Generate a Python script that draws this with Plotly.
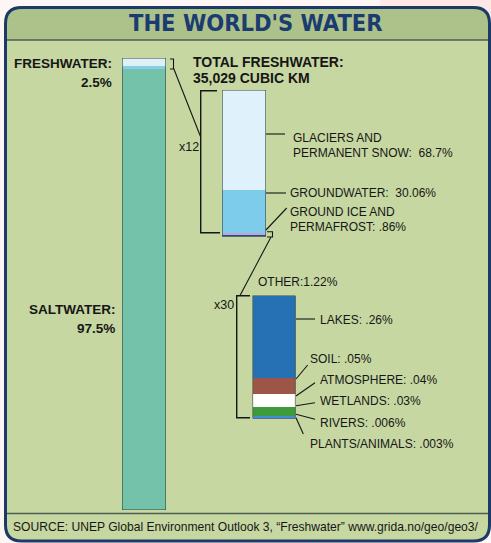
import plotly.graph_objects as go

W, H = 491, 543

# ---------------- data ----------------
world_labels = ["SALTWATER", "FRESHWATER"]
world_values = [97.5, 2.5]

fresh_labels = ["OTHER", "GROUND ICE AND PERMAFROST", "GROUNDWATER", "GLACIERS AND PERMANENT SNOW"]
fresh_values = [1.22, 0.86, 30.06, 68.7]
fresh_colors = ["#1f4f9c", "#c9a3c9", "#7dccec", "#dff1fa"]

other_labels = ["PLANTS/ANIMALS", "RIVERS", "WETLANDS", "ATMOSPHERE", "SOIL", "LAKES"]
other_values = [0.003, 0.006, 0.03, 0.04, 0.05, 0.26]
other_colors = ["#e5809c", "#3a8fd6", "#3d9b3c", "#ffffff", "#9d5548", "#2571b3"]

total_freshwater_km3 = "35,029"

def px(x):
    return x / W

def py(y):
    return 1 - y / H

FONT_T = "DejaVu Sans Condensed, DejaVu Sans, sans-serif"
FONT_N = "Liberation Sans, Arial, sans-serif"
FONT_B = "Liberation Sans, Arial, sans-serif"
INK = "#161616"

fig = go.Figure()

glacier_share = fresh_values[3] / sum(fresh_values)
w_segments = [world_values[0], world_values[1] * (1 - glacier_share), world_values[1] * glacier_share]
w_colors = ["#74c2aa", "#86cde6", "#def0f7"]
for v, c in zip(w_segments, w_colors):
    fig.add_trace(go.Bar(x=[0], y=[v], width=1, marker=dict(color=c, line=dict(width=0)),
                         xaxis="x", yaxis="y", hoverinfo="skip", showlegend=False))
for v, c in zip(fresh_values, fresh_colors):
    fig.add_trace(go.Bar(x=[0], y=[v], width=1, marker=dict(color=c, line=dict(width=0)),
                         xaxis="x2", yaxis="y2", hoverinfo="skip", showlegend=False))
for v, c in zip(other_values, other_colors):
    fig.add_trace(go.Bar(x=[0], y=[v], width=1, marker=dict(color=c, line=dict(width=0)),
                         xaxis="x3", yaxis="y3", hoverinfo="skip", showlegend=False))

def ax(domain):
    return dict(domain=domain, range=[-0.5, 0.5], visible=False, fixedrange=True)

def ay(domain, top, anchor):
    return dict(domain=domain, range=[0, top], visible=False, fixedrange=True, anchor=anchor)

bars = {
    "1": (122, 166, 58, 510, sum(world_values)),
    "2": (222, 266, 90, 236.5, sum(fresh_values)),
    "3": (252.5, 295.5, 295.5, 418.5, sum(other_values)),
}

layout = dict(
    width=W, height=H, margin=dict(l=0, r=0, t=0, b=0),
    paper_bgcolor="#fdf6f5", plot_bgcolor="rgba(0,0,0,0)",
    barmode="stack", bargap=0, showlegend=False,
)
for k, (x0, x1, y0, y1, tot) in bars.items():
    s = "" if k == "1" else k
    layout["xaxis" + s] = ax([px(x0), px(x1)])
    layout["xaxis" + s]["anchor"] = "y" + s
    layout["yaxis" + s] = ay([py(y1), py(y0)], tot, "x" + s)
fig.update_layout(**layout)

shapes = []

def rr_path(x0, y0, x1, y1, r, top_only=False):
    if top_only:
        d = f"M {px(x0)},{py(y1)} L {px(x0)},{py(y0 + r)} Q {px(x0)},{py(y0)} {px(x0 + r)},{py(y0)} " \
            f"L {px(x1 - r)},{py(y0)} Q {px(x1)},{py(y0)} {px(x1)},{py(y0 + r)} L {px(x1)},{py(y1)} Z"
    else:
        d = f"M {px(x0 + r)},{py(y0)} L {px(x1 - r)},{py(y0)} Q {px(x1)},{py(y0)} {px(x1)},{py(y0 + r)} " \
            f"L {px(x1)},{py(y1 - r)} Q {px(x1)},{py(y1)} {px(x1 - r)},{py(y1)} " \
            f"L {px(x0 + r)},{py(y1)} Q {px(x0)},{py(y1)} {px(x0)},{py(y1 - r)} " \
            f"L {px(x0)},{py(y0 + r)} Q {px(x0)},{py(y0)} {px(x0 + r)},{py(y0)} Z"
    return d

shapes.append(dict(type="rect", xref="paper", yref="paper", x0=px(380), x1=1, y0=py(45), y1=1,
                   fillcolor="rgba(245,205,205,0.35)", line=dict(width=0), layer="below"))
shapes.append(dict(type="path", xref="paper", yref="paper", path=rr_path(5.5, 7.5, 489.5, 541, 16),
                   fillcolor="#c6d7a1", line=dict(width=0), layer="below"))
shapes.append(dict(type="path", xref="paper", yref="paper", path=rr_path(5.5, 7.5, 489.5, 40, 16, top_only=True),
                   fillcolor="#adc18b", line=dict(width=0), layer="below"))
for yy in (40, 513.5):
    shapes.append(dict(type="line", xref="paper", yref="paper", x0=px(5.5), x1=px(489.5), y0=py(yy), y1=py(yy),
                       line=dict(color="#4d5f52", width=1.5), layer="below"))
shapes.append(dict(type="path", xref="paper", yref="paper", path=rr_path(5.5, 7.5, 489.5, 541, 16),
                   fillcolor="rgba(0,0,0,0)", line=dict(color="#1c3a66", width=3), layer="above"))

for k, (x0, x1, y0, y1, tot) in bars.items():
    s = "" if k == "1" else k
    shapes.append(dict(type="rect", xref="x" + s, yref="y" + s, x0=-0.5, x1=0.5, y0=0, y1=tot,
                       line=dict(color="#34463c", width=1.2), fillcolor="rgba(0,0,0,0)", layer="above"))

def poly(points, color=INK, width=1.1):
    d = "M " + " L ".join(f"{px(x)},{py(y)}" for x, y in points)
    shapes.append(dict(type="path", xref="paper", yref="paper", path=d,
                       line=dict(color=color, width=width), layer="above"))

poly([(170, 59), (173.5, 59), (173.5, 69), (170, 69)])
poly([(173.5, 68), (200.7, 137)])
poly([(217, 90.7), (200.7, 90.7), (200.7, 232.7), (220, 232.7)], width=1.4)
poly([(267, 231.7), (272.5, 231.7), (272.5, 237), (267, 237)])
poly([(271, 237), (240, 295.5)])
poly([(250, 295.7), (236.7, 295.7), (236.7, 417.7), (250, 417.7)], width=1.4)

poly([(266, 134), (285, 134)])
poly([(266, 193), (286, 193)])
poly([(266, 230), (286.7, 208)])
poly([(296, 319), (315, 319)])
poly([(296, 379), (307.7, 365)])
poly([(296, 396), (315, 382.7)])
poly([(296, 405.7), (315, 402.7)])
poly([(296, 414.3), (315, 419.3)])
poly([(296, 417.7), (303.3, 434)])

fig.update_layout(shapes=shapes)

ann = []

def txt(x, y, s, size=12, family=FONT_N, color=INK, anchor="left", bold=False):
    t = f"<b>{s}</b>" if bold else s
    ann.append(dict(x=px(x), y=py(y), xref="paper", yref="paper", text=t, showarrow=False,
                    xanchor=anchor, yanchor="middle", font=dict(family=family, size=size, color=color)))

def pct(v):
    s = f"{v:g}"
    if s.startswith("0."):
        s = s[1:]
    return s + "%"

txt(255.5, 23, "THE WORLD'S WATER", size=23.5, family=FONT_T, color="#1a3c70", anchor="center", bold=True)

txt(114, 63, f"{world_labels[1]}:", size=13.5, family=FONT_B, anchor="right", bold=True)
txt(114, 83, pct(world_values[1]), size=13.5, family=FONT_B, anchor="right", bold=True)
txt(117, 309, f"{world_labels[0]}:", size=13.5, family=FONT_B, anchor="right", bold=True)
txt(117, 328, pct(world_values[0]), size=13.5, family=FONT_B, anchor="right", bold=True)

txt(191, 62, "TOTAL FRESHWATER:", size=14, family=FONT_B, bold=True)
txt(191, 78, f"{total_freshwater_km3} CUBIC KM", size=14, family=FONT_B, bold=True)

txt(176.5, 147, "x12", size=12.5)
txt(211.5, 305, "x30", size=12.5)

txt(291, 138, "GLACIERS AND")
txt(291, 153, f"PERMANENT SNOW:&nbsp; {pct(fresh_values[3])}")
txt(287.5, 193, f"GROUNDWATER:&nbsp; {pct(fresh_values[2])}")
txt(287.5, 212, "GROUND ICE AND")
txt(287.5, 227, f"PERMAFROST: {pct(fresh_values[1])}")

txt(256, 282, f"{fresh_labels[0]}:{pct(fresh_values[0])}")
txt(317.5, 320, f"{other_labels[5]}: {pct(other_values[5])}")
txt(308, 358.5, f"{other_labels[4]}: {pct(other_values[4])}")
txt(317.5, 380, f"{other_labels[3]}: {pct(other_values[3])}")
txt(317.5, 401, f"{other_labels[2]}: {pct(other_values[2])}")
txt(317.5, 422.5, f"{other_labels[1]}: {pct(other_values[1])}")
txt(307.5, 444, f"{other_labels[0]}: {pct(other_values[0])}")

txt(11, 527, "SOURCE: UNEP Global Environment Outlook 3, \u201cFreshwater\u201d www.grida.no/geo/geo3/", size=12.1)

fig.update_layout(annotations=ann)
fig.write_html("out.html", config={"displayModeBar": False},
               post_script="document.body.style.margin='0';document.body.style.overflow='hidden';")
